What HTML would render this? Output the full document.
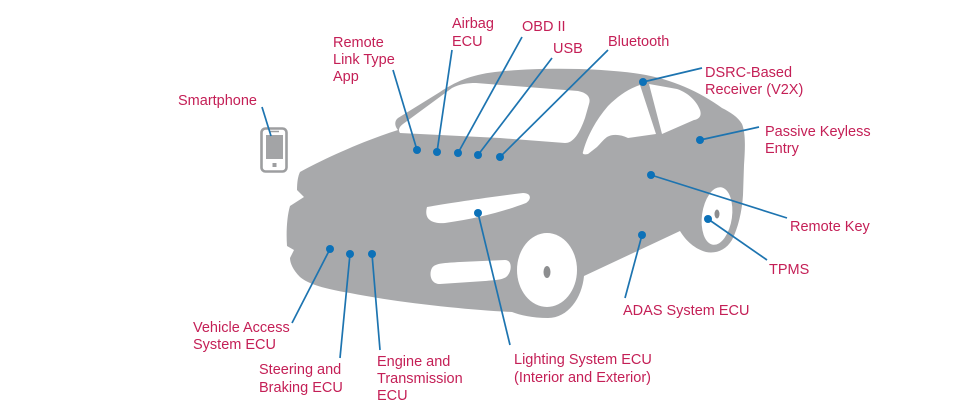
<!DOCTYPE html>
<html><head><meta charset="utf-8"><style>
html,body{margin:0;padding:0;background:#fff;}
svg{display:block;}
text{font-family:"Liberation Sans",Arial,sans-serif;font-size:14.5px;fill:#c41f56;}
</style></head><body>
<svg width="960" height="420" viewBox="0 0 960 420" xmlns="http://www.w3.org/2000/svg">
<rect width="960" height="420" fill="#fff"/>
<!-- car body -->
<path fill="#a8a9ab" d="M300,172 C322,160 360,142 398,130 C396,128 393,122 398,118 L440,92 C455,82 470,75 495,72 C540,67 600,68 640,74 C672,79 700,92 722,108 C730,112 738,117 742,124 C746,134 745,150 744,165 L743,195 C742,212 738,228 732,240 C726,250 716,254 706,252 C695,249 686,241 680,231 L584,276 C582,298 568,318 548,318 C532,318 520,315 512,312 C470,310 400,303 350,293 C325,289 308,284 300,277 C293,270 290,263 290,258 L294,250 L287,246 C286,232 287,216 290,206 L304,197 L297,190 C297,182 298,176 300,172 Z"/>
<!-- windshield -->
<path fill="#fff" d="M400,133 C398,130 399,127 403,124 L452,88 C460,84 467,83 476,83 L578,91 C588,93 591,98 589,104 L585,118 C580,132 574,143 565,143 L500,138 Z"/>
<!-- front side window -->
<path fill="#fff" d="M583,152 C586,140 594,122 608,106 C618,96 628,89 640,85 L656,134 L628,138 C620,134 612,134 607,137 C603,140 600,144 597,147 L588,154 C584,155 582,154 583,152 Z"/>
<!-- rear side window -->
<path fill="#fff" d="M649,84 L677,89 C689,93 697,102 700,110 C702,116 699,119 694,120 L662,134 Z"/>
<!-- headlight -->
<path fill="#fff" d="M427,207 C450,203 490,197 523,193 C531,193 532,199 526,203 C505,211 480,218 445,223 C430,224 424,218 427,207 Z"/>
<!-- lower intake -->
<path fill="#fff" d="M432,268 C435,263 445,263 460,262 L505,260 C512,260 512,270 508,275 C505,280 495,280 485,281 L440,284 C430,284 429,273 432,268 Z"/>
<!-- wheels -->
<ellipse cx="547" cy="270" rx="30" ry="37" fill="#fff"/>
<ellipse cx="547" cy="272" rx="3.5" ry="6" fill="#8d8e90"/>
<ellipse cx="717" cy="216" rx="15" ry="29" fill="#fff" transform="rotate(8 717 216)"/>
<ellipse cx="717" cy="214" rx="2.5" ry="4.5" fill="#8d8e90"/>
<!-- phone -->
<rect x="261.5" y="128.5" width="25" height="43" rx="4" fill="#fff" stroke="#9d9ea0" stroke-width="2.6"/>
<rect x="266" y="135" width="17" height="24" fill="#a3a4a6"/>
<rect x="272.5" y="163" width="4" height="4" fill="#9d9ea0"/>
<line x1="270" y1="131.5" x2="279" y2="131.5" stroke="#9d9ea0" stroke-width="1.5"/>
<!-- connectors -->
<g stroke="#1d74b0" stroke-width="1.7" fill="none">
<line x1="262" y1="107" x2="271" y2="136"/>
<line x1="393" y1="70" x2="417" y2="150"/>
<line x1="452" y1="50" x2="437" y2="152"/>
<line x1="522" y1="37" x2="458" y2="153"/>
<line x1="552" y1="58" x2="478" y2="155"/>
<line x1="608" y1="50" x2="500" y2="157"/>
<line x1="702" y1="68" x2="643" y2="82"/>
<line x1="759" y1="127" x2="700" y2="140"/>
<line x1="787" y1="218" x2="651" y2="175"/>
<line x1="767" y1="260" x2="708" y2="219"/>
<line x1="625" y1="298" x2="642" y2="235"/>
<line x1="510" y1="345" x2="478" y2="213"/>
<line x1="292" y1="323" x2="330" y2="249"/>
<line x1="340" y1="358" x2="350" y2="254"/>
<line x1="380" y1="350" x2="372" y2="254"/>
</g>
<g fill="#0c71b8">
<circle cx="417" cy="150" r="4"/>
<circle cx="437" cy="152" r="4"/>
<circle cx="458" cy="153" r="4"/>
<circle cx="478" cy="155" r="4"/>
<circle cx="500" cy="157" r="4"/>
<circle cx="643" cy="82" r="4"/>
<circle cx="700" cy="140" r="4"/>
<circle cx="651" cy="175" r="4"/>
<circle cx="708" cy="219" r="4"/>
<circle cx="642" cy="235" r="4"/>
<circle cx="478" cy="213" r="4"/>
<circle cx="330" cy="249" r="4"/>
<circle cx="350" cy="254" r="4"/>
<circle cx="372" cy="254" r="4"/>
</g>
<!-- labels -->
<text x="178" y="105">Smartphone</text>
<text x="333" y="47">Remote</text>
<text x="333" y="64">Link Type</text>
<text x="333" y="81">App</text>
<text x="452" y="28">Airbag</text>
<text x="452" y="46">ECU</text>
<text x="522" y="31">OBD II</text>
<text x="553" y="53">USB</text>
<text x="608" y="46">Bluetooth</text>
<text x="705" y="77">DSRC-Based</text>
<text x="705" y="94">Receiver (V2X)</text>
<text x="765" y="136">Passive Keyless</text>
<text x="765" y="153">Entry</text>
<text x="790" y="231">Remote Key</text>
<text x="769" y="274">TPMS</text>
<text x="623" y="315">ADAS System ECU</text>
<text x="514" y="364">Lighting System ECU</text>
<text x="514" y="382">(Interior and Exterior)</text>
<text x="193" y="332">Vehicle Access</text>
<text x="193" y="349">System ECU</text>
<text x="259" y="374">Steering and</text>
<text x="259" y="392">Braking ECU</text>
<text x="377" y="366">Engine and</text>
<text x="377" y="383">Transmission</text>
<text x="377" y="400">ECU</text>
</svg>
</body></html>
